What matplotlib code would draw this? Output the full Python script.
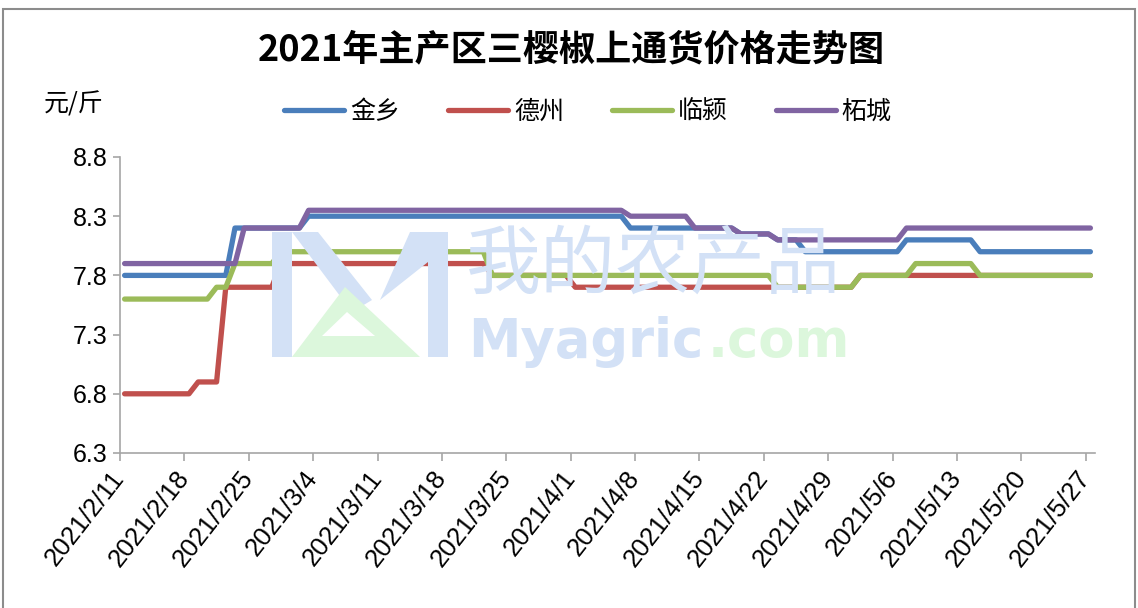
import matplotlib
matplotlib.use("Agg")
import matplotlib.pyplot as plt
from matplotlib.patches import Polygon, Rectangle
import pandas as pd

plt.rcParams['font.family'] = ['Noto Sans CJK SC', 'DejaVu Sans']

# ---- data: vertices of each price line (start / end of every flat run) ----
jinxiang_dates = ["2021-02-11", "2021-02-22", "2021-02-23", "2021-03-02", "2021-03-03",
                  "2021-04-06", "2021-04-07", "2021-04-18", "2021-04-19", "2021-04-22",
                  "2021-04-23", "2021-04-25", "2021-04-26", "2021-05-06", "2021-05-07",
                  "2021-05-14", "2021-05-15", "2021-05-27"]
jinxiang_price = [7.8, 7.8, 8.2, 8.2, 8.3, 8.3, 8.2, 8.2, 8.15, 8.15,
                  8.1, 8.1, 8.0, 8.0, 8.1, 8.1, 8.0, 8.0]

dezhou_dates = ["2021-02-11", "2021-02-18", "2021-02-19", "2021-02-21", "2021-02-22",
                "2021-02-27", "2021-02-28", "2021-03-22", "2021-03-23", "2021-03-31",
                "2021-04-01", "2021-05-01", "2021-05-02", "2021-05-27"]
dezhou_price = [6.8, 6.8, 6.9, 6.9, 7.7, 7.7, 7.9, 7.9, 7.8, 7.8, 7.7, 7.7, 7.8, 7.8]

linying_dates = ["2021-02-11", "2021-02-20", "2021-02-21", "2021-02-22", "2021-02-23",
                 "2021-02-27", "2021-02-28", "2021-03-22", "2021-03-23", "2021-04-22",
                 "2021-04-23", "2021-05-01", "2021-05-02", "2021-05-07", "2021-05-08",
                 "2021-05-14", "2021-05-15", "2021-05-27"]
linying_price = [7.6, 7.6, 7.7, 7.7, 7.9, 7.9, 8.0, 8.0, 7.8, 7.8,
                 7.7, 7.7, 7.8, 7.8, 7.9, 7.9, 7.8, 7.8]

zhecheng_dates = ["2021-02-11", "2021-02-23", "2021-02-24", "2021-03-02", "2021-03-03",
                  "2021-04-06", "2021-04-07", "2021-04-13", "2021-04-14", "2021-04-18",
                  "2021-04-19", "2021-04-22", "2021-04-23", "2021-05-06", "2021-05-07",
                  "2021-05-27"]
zhecheng_price = [7.9, 7.9, 8.2, 8.2, 8.35, 8.35, 8.3, 8.3, 8.2, 8.2,
                  8.15, 8.15, 8.1, 8.1, 8.2, 8.2]

series = [
    ("金乡", jinxiang_dates, jinxiang_price, "#4a7ebb"),
    ("德州", dezhou_dates, dezhou_price, "#c0504d"),
    ("临颍", linying_dates, linying_price, "#9bbb59"),
    ("柘城", zhecheng_dates, zhecheng_price, "#8064a2"),
]

y_ticks = [6.3, 6.8, 7.3, 7.8, 8.3, 8.8]
x_ticks = pd.date_range("2021-02-11", "2021-05-27", freq="7D")

W, H = 1138, 608
fig = plt.figure(figsize=(W / 100, H / 100), dpi=100)


def px(x, y):
    # pixel (from top-left) -> figure fraction
    return (x / W, 1 - y / H)


# outer chart frame
fig.patches.append(Rectangle(px(3, 620), 1132 / W, 611 / H, transform=fig.transFigure,
                             fill=False, edgecolor="#8c8c8c", linewidth=1.5))

ax = fig.add_axes([120 / W, 1 - 453 / H, 975 / W, 296 / H])
ax.set_facecolor("none")

# watermark (behind the lines)
wm_blue = "#d3e1f6"
wm_green = "#dcf7dc"
logo_blue = [[(272, 232), (292, 232), (292, 357), (272, 357)],
             [(292, 232), (318, 232), (372, 300), (352, 312)],
             [(428, 232), (448, 232), (448, 357), (428, 357)],
             [(410, 232), (428, 232), (428, 262), (380, 300)]]
for pts in logo_blue:
    fig.patches.append(Polygon([px(*p) for p in pts], closed=True, transform=fig.transFigure,
                               facecolor=wm_blue, edgecolor="none", zorder=0))
fig.patches.append(Polygon([px(292, 357), px(345, 287), px(420, 357)], closed=True,
                           transform=fig.transFigure, facecolor=wm_green, edgecolor="none", zorder=0))
fig.patches.append(Polygon([px(322, 336), px(347, 312), px(375, 336)], closed=True,
                           transform=fig.transFigure, facecolor="white", edgecolor="none", zorder=0))
fig.text(*px(466, 266), "我的农产品", fontsize=54, color=wm_blue, va="center", ha="left", zorder=0)
brand = fig.text(*px(468, 342), "Myagric", fontsize=38, color=wm_blue, va="center", ha="left",
                 family="DejaVu Sans", fontweight="bold", zorder=0)
ax.annotate(".com", xy=(1, 0.5), xycoords=brand, xytext=(3, 0), textcoords="offset points",
            fontsize=38, color=wm_green, va="center", ha="left",
            family="DejaVu Sans", fontweight="bold", zorder=0, annotation_clip=False)

for name, dates, price, color in series:
    x = pd.to_datetime(dates) + pd.Timedelta(hours=12)
    ax.plot(x, price, color=color, linewidth=3.8, label=name,
            solid_joinstyle="round", solid_capstyle="round")

ax.set_xlim(pd.Timestamp("2021-02-11"), pd.Timestamp("2021-05-28"))
ax.set_ylim(6.3, 8.8)
ax.set_yticks(y_ticks)
ax.set_yticklabels([f"{v:.1f}" for v in y_ticks], fontsize=18, family="Liberation Sans")
ax.set_xticks(x_ticks)
ax.set_xticklabels([f"{d.year}/{d.month}/{d.day}" for d in x_ticks], fontsize=18.5,
                   family="Liberation Sans", rotation=52, ha="right", va="center",
                   rotation_mode="anchor")

for s in ["top", "right"]:
    ax.spines[s].set_visible(False)
for s in ["left", "bottom"]:
    ax.spines[s].set_color("#a6a6a6")
    ax.spines[s].set_linewidth(1.2)
ax.tick_params(axis="both", colors="#a6a6a6", labelcolor="black", width=1.2)
ax.tick_params(axis="y", length=5, pad=4)
ax.tick_params(axis="x", length=6, pad=9)

fig.text(*px(571, 50), "2021年主产区三樱椒上通货价格走势图", fontsize=26, fontweight="bold",
         ha="center", va="center")
fig.text(*px(44, 104), "元/斤", fontsize=18, ha="left", va="center")

fig.legend(loc="center", bbox_to_anchor=px(588, 112), ncol=4, frameon=False, fontsize=18,
           handlelength=2.4, handletextpad=0.25, columnspacing=1.9)

fig.savefig("out.png", dpi=100)
